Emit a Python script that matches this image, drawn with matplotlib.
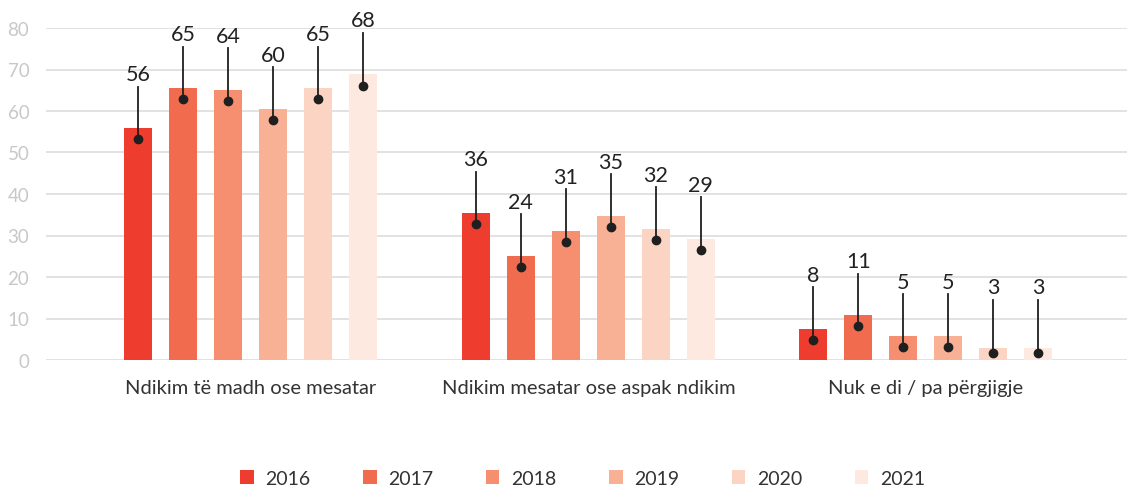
import matplotlib
matplotlib.use("Agg")
import matplotlib.pyplot as plt
from matplotlib.patches import Patch
import numpy as np

plt.rcParams['font.family'] = ['Lato', 'DejaVu Sans']

categories = ["Ndikim të madh ose mesatar", "Ndikim mesatar ose aspak ndikim", "Nuk e di / pa përgjigje"]
years = ["2016", "2017", "2018", "2019", "2020", "2021"]
colors = ["#ee3d2e", "#f16c4f", "#f58f6f", "#f8b195", "#fbd4c3", "#fde9df"]

# bar heights per year (one value per category)
values = {
    "2016": [55.9, 35.4, 7.5],
    "2017": [65.5, 25.1, 10.8],
    "2018": [65.1, 31.1, 5.8],
    "2019": [60.5, 34.7, 5.8],
    "2020": [65.5, 31.6, 2.9],
    "2021": [68.8, 29.2, 2.9],
}
# printed labels
labels = {
    "2016": [56, 36, 8],
    "2017": [65, 24, 11],
    "2018": [64, 31, 5],
    "2019": [60, 35, 5],
    "2020": [65, 32, 3],
    "2021": [68, 29, 3],
}

fig = plt.figure(figsize=(11.27, 4.89), dpi=100)
ax = fig.add_axes([46 / 1127, 1 - 361 / 489, (1127 - 46) / 1127, (361 - 29) / 489])

x = np.arange(len(categories))
step = 0.1333
width = 0.083

for j, yr in enumerate(years):
    xs = x + (j - 2.5) * step
    ax.bar(xs, values[yr], width=width, color=colors[j], zorder=2)
    for xi, v, lab in zip(xs, values[yr], labels[yr]):
        dot = max(v - 2.7, 1.8)
        top = dot + 12.7
        ax.plot([xi, xi], [dot, top], color="#1f1f1f", lw=1.3, zorder=3, clip_on=False)
        ax.plot(xi, dot, "o", color="#1f1f1f", ms=6, zorder=4, clip_on=False)
        ax.text(xi, top + 0.6, str(lab), ha="center", va="bottom", fontsize=15.5,
                color="#222222", clip_on=False, zorder=5)

ax.set_xlim(-0.607, 2.596)
ax.set_ylim(0, 80)
ax.set_yticks(range(0, 81, 10))
ax.grid(axis="y", color="#dddddd", lw=1.2, zorder=0)
ax.set_axisbelow(True)
for s in ax.spines.values():
    s.set_visible(False)
ax.tick_params(axis="y", length=0, pad=12, labelsize=13.5, labelcolor="#c8c8c8")
ax.set_xticks(x)
ax.set_xticklabels(categories, fontsize=14.5, color="#333333")
ax.tick_params(axis="x", length=0, pad=14)

handles = [Patch(facecolor=c, label=y) for c, y in zip(colors, years)]
fig.legend(handles=handles, loc="center", bbox_to_anchor=(0.517, 0.02), ncol=6,
           frameon=False, fontsize=14, handlelength=0.7, handleheight=0.7,
           handletextpad=0.6, columnspacing=2.7, labelcolor="#333333")

fig.savefig("out.png", dpi=100)
